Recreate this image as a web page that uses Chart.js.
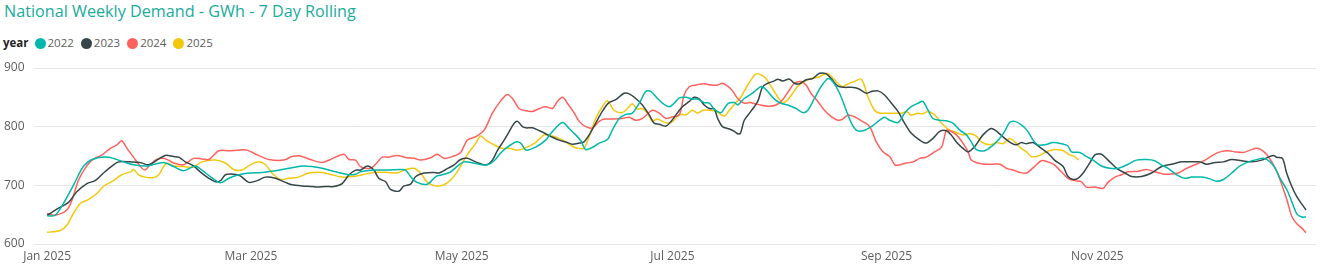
<!DOCTYPE html>
<html><head><meta charset="utf-8">
<script src="https://cdn.jsdelivr.net/npm/chart.js@4.4.1/dist/chart.umd.min.js"></script>
<style>
html,body{margin:0;padding:0;background:#fff;width:1328px;height:271px;overflow:hidden;font-family:"Open Sans",sans-serif;}
#title{position:absolute;left:4px;top:0px;font-size:16.2px;color:#1aab9b;white-space:nowrap;line-height:22px;}
#legend{position:absolute;left:3px;top:35px;font-size:11.5px;color:#605e5c;display:flex;align-items:center;line-height:16px;white-space:nowrap;}
#legend .lab{color:#252423;font-weight:700;margin-right:6px;}
#legend .item{display:flex;align-items:center;margin-right:7px;}
#legend .dot{width:11px;height:11px;border-radius:50%;margin-right:2px;}
#wrap{position:absolute;left:0;top:55px;width:1328px;height:216px;}
</style></head>
<body>
<div id="title">National Weekly Demand - GWh - 7 Day Rolling</div>
<div id="legend"><span class="lab">year</span></div>
<div id="wrap"><canvas id="c" width="1328" height="216" style="width:1328px;height:216px"></canvas></div>
<script>
// x positions are day of year (0 = 1 Jan)
const tickDays = [0, 59, 120, 181, 243, 304];
const tickLabels = ['Jan 2025', 'Mar 2025', 'May 2025', 'Jul 2025', 'Sep 2025', 'Nov 2025'];
const yTicks = [600, 700, 800, 900];
const years = ['2022', '2023', '2024', '2025'];

const days2022 = [0,2.3,4.7,7.6,10.5,13.4,17.8,22.1,25,28.9,33.7,36.6,39.5,42.9,44.8,47.2,49.7,50.6,52.6,55.5,58.4,62.2,66.1,70,73.8,76.7,79.6,83.5,87.4,89.3,90.7,94.6,98.5,102.3,103.8,105.2,107.1,110.1,112.5,114.4,116.8,119.2,120.7,122.6,125,127.5,129.4,131.3,133.2,135.7,137.1,138.6,141.4,144.3,146.3,149.2,151.1,153,154.5,155.9,157.9,159.8,162.2,163.6,165.6,167.5,169.4,171.4,173.3,174.7,176.7,178.1,180.1,181.5,183,184.9,186.8,188.3,190.2,191.7,193.1,195.1,197,199,199.9,201.8,204.2,206.2,207.1,208.6,210.5,212.4,214.4,216.8,218.7,220.2,222.1,224,226,227.4,229.4,231.3,232.8,234.2,236.2,238.6,241,242.4,243.9,246.3,248.2,250.1,252.1,253.5,255,256.4,258.4,260.3,262.2,264.2,266.1,267.5,269,271.4,273.3,275.3,277.2,278.6,280.1,282,283.9,285.4,286.8,288.8,291.2,293.6,295.5,296.5,298.9,300.9,302.8,305.2,307.6,310,312.9,315.3,318.2,320.6,322.5,324.5,327,329.4,331.3,334.2,336.6,338.5,340.5,342.9,345.3,347.7,350.2,352.1,354,355.5,356.9,358.9,360.3,361.8,363.2,364.4];
const demand2022 = [648,649,669,700,732,745,748,740,735,733,739,732,725,733,726,715,705,705,712,718,721,722,725,729,733,732,729,723,718,719,723,726,726,727,726,715,705,702,715,718,723,735,740,739,736,735,742,755,765,774,772,760,765,777,792,807,797,786,776,761,765,772,778,794,814,821,823,840,860,860,848,840,834,840,849,850,847,847,841,840,830,824,839,841,837,848,857,867,868,860,847,840,837,831,824,828,848,868,882,877,857,828,806,794,793,800,811,816,811,807,823,834,840,843,828,814,811,810,806,794,786,774,761,759,766,777,792,807,809,803,792,777,769,769,773,771,767,757,756,749,743,733,729,729,736,743,744,742,735,729,718,712,714,714,711,707,710,721,733,740,744,746,740,729,712,692,672,651,646,646];

const days2023 = [0,3.3,6.2,8.6,11.5,13.9,16.3,19.2,20.7,24.1,26.9,29.4,31.8,34.2,36.6,38.1,40,42.4,44.3,46.8,48.7,50.2,51.6,54,55.9,58.4,60.8,63.2,66.1,69,70.9,73.8,76.7,78.2,80.6,83,85.4,87.4,89.3,90.7,92.7,94.6,96,98,99.4,101.8,103.3,105.2,106.7,109.1,112,113.4,115.4,117.8,119.7,121.6,124.1,127,128.9,130.4,132.3,133.8,135.2,136.2,137.6,138.6,140.5,142.5,144.3,146.3,148.2,150.1,152.1,154,155.4,156.9,158.8,160.7,162.6,164.6,167,168.5,170.4,172.3,174.3,175.7,177.2,179.1,180.6,182.5,183.9,185.9,187.3,188.8,190.2,191.7,193.1,194.1,195.5,197.5,198.9,199.9,200.7,201.8,203.7,205.7,207.1,208.6,210.5,211.5,212.9,214.9,216.3,217.8,219.7,221.6,223.6,225.5,227,228.9,230.8,232.8,234.7,237.1,238.6,240.5,242.4,244.4,246.3,248.2,250.1,252.6,254.5,256.4,258.4,260.3,261.7,263.2,265.1,266.6,268.5,270.9,273.3,275.3,277.2,279.1,280.6,282,283.4,285.4,287.8,289.7,291.6,294.1,295.5,297,298.4,299.9,301.8,303.3,305.2,307.1,309.6,312,313.9,316.8,319.7,322.6,325.5,328.4,331.3,333.7,335.6,338.1,340.5,342.9,345.8,348.7,351.6,353.5,355,355.9,357.6,358.8,360.3,361.7,363.2,364.4];
const demand2023 = [649,661,671,689,703,708,721,735,740,740,739,735,743,751,749,748,740,733,723,712,706,708,718,719,716,705,708,714,712,705,701,699,698,697,698,698,703,718,726,726,733,726,712,706,693,690,699,702,715,721,722,721,727,735,744,746,740,735,743,760,777,792,806,809,800,798,798,793,788,782,777,774,770,772,774,786,806,826,841,846,857,856,848,837,820,806,804,801,809,824,834,843,850,847,837,831,830,814,800,796,792,788,789,811,826,843,868,874,878,881,878,881,874,873,880,882,891,890,882,869,867,867,865,857,860,861,854,840,826,806,789,777,772,780,792,793,786,774,763,757,766,786,797,790,780,772,769,773,771,773,763,755,743,732,715,710,712,721,738,752,753,743,729,721,715,715,721,732,736,740,740,740,736,739,740,744,742,740,743,748,751,748,746,721,698,681,668,658];

const days2024 = [0,2.3,5.7,7.2,9.1,11,13,15.9,18.3,20.2,21.6,23.1,25,26.9,28.3,29.8,31.7,33.7,35.1,36.6,39.5,42.4,44.8,46.8,49.7,52.6,55,57.9,60.8,64.2,68.5,70.9,73.3,76.2,79.6,82,85.9,87.4,89.3,90.7,93.6,95.1,97,98.9,101.3,104.2,106.2,108.1,111,112.9,114.9,117.3,119.7,121.6,124.1,126.5,128.9,131.3,133.2,134.7,136.6,138.6,140.5,142.5,144.3,146.3,147.7,149.2,150.6,152.6,154,155.9,157.9,159.8,161.3,163.6,166.5,168.5,170.4,172.3,175.2,177.2,179.1,181.1,183,184.4,185.9,187.8,190.2,192.2,194.1,195.5,197,198.4,199.9,201.8,203.3,205.7,208.6,211,212.9,214.9,216.3,218.2,219.7,221.1,223.1,225,227,228.9,230.3,231.8,233.7,235.7,238.1,240,242,243.9,245.4,246.8,248.7,250.7,252.6,254.5,256.9,258.9,260.3,261.3,263.2,265.1,266.6,267.5,269.5,271.4,273.8,275.8,277.7,279.6,281.6,283.5,285.8,287.8,289.7,291.6,293.6,295.5,297.4,299.4,300.8,303.3,305.7,307.1,309.1,311,312.9,315.8,318.2,320.6,323.5,325,327.4,329.8,332.3,335.2,337.6,339.5,341.9,343.9,346.3,348.2,350.2,351.6,353.1,354.5,356,357.4,358.9,360.3,361.8,363.2,364.4];
const demand2024 = [652,649,658,675,709,729,743,752,763,769,776,763,748,733,726,735,744,746,743,738,735,746,745,744,759,759,760,760,752,744,743,749,750,744,739,744,753,744,743,732,729,736,748,748,751,747,746,743,747,753,746,749,756,777,783,794,823,844,855,848,831,827,826,831,834,831,843,850,840,823,809,800,798,809,813,813,814,816,811,814,828,823,814,817,820,854,868,871,873,871,871,874,869,861,848,840,841,838,835,837,846,863,874,877,871,857,843,828,817,811,813,820,817,810,800,774,757,749,735,735,738,740,746,748,757,765,794,793,786,772,757,743,738,736,736,736,729,726,722,721,732,742,740,735,723,712,708,706,697,697,695,705,714,718,723,724,727,723,719,719,721,729,735,743,752,757,759,757,756,760,763,760,752,740,723,701,675,647,634,627,619];

const days2025 = [0,3.8,5.7,7.6,9.6,12,14.4,16.3,19.2,21.6,24.1,25,26.5,28.4,30.8,32.3,33.7,34.7,36.6,39.5,42.4,44.8,48.7,51.6,54,56.4,58.8,61.3,63.2,65.1,67.5,70,72.8,75.7,79.6,82.5,85.4,88.3,91.2,94.6,98.5,101.3,103.8,106.2,108.1,110.1,112.5,114.9,116.8,118.7,120.2,121.6,124.1,125.5,127,129.4,131.8,133.8,136.2,138.1,141.4,143.9,146.3,148.2,150.1,152.6,154,155.4,156.9,158.8,160.7,162.2,164.1,166.5,168,169.4,170.9,172.3,173.8,175.2,176.7,178.1,179.6,181.1,183,184.9,186.8,188.3,189.8,191.7,193.6,196,197.5,199.4,200.9,202.8,205.2,206.7,208.1,209.6,211.5,212.9,214.4,215.8,217.3,219.2,221.1,223.6,225.5,227,228.9,230.3,231.8,233.7,235.7,237.6,239.5,241,242.9,245.4,247.3,248.7,250.1,252.1,253.5,255,256.9,258.9,260.8,263.2,265.1,267.1,269,270.4,272.9,274.8,276.7,278.6,280.1,282,283.5,284.9,286.8,289.2,291.6,294.1,296,297.4,298.6];
const demand2025 = [620,623,632,652,669,676,686,698,708,718,723,727,718,714,713,718,732,738,733,732,731,740,743,738,727,726,735,740,735,721,710,712,714,721,722,718,714,715,718,722,722,721,727,729,721,705,699,701,709,723,738,752,772,784,777,769,763,763,760,763,773,786,784,780,774,765,763,763,783,814,834,844,828,824,831,839,830,831,823,810,813,809,806,809,821,820,828,823,828,828,826,818,828,841,851,871,890,888,882,868,851,841,846,857,869,877,882,885,891,886,874,868,873,877,881,851,828,823,823,823,823,826,820,823,822,826,820,806,796,790,786,788,784,774,769,773,771,780,774,763,757,749,750,757,761,759,752,749,743];

const seriesDays = [days2022, days2023, days2024, days2025];
const seriesValues = [demand2022, demand2023, demand2024, demand2025];
const palette = ['#01B8AA', '#374649', '#FD625E', '#F2C80F'];

// legend
const leg = document.getElementById('legend');
years.forEach((y, i) => {
  const it = document.createElement('span'); it.className = 'item';
  const d = document.createElement('span'); d.className = 'dot'; d.style.background = palette[i];
  const t = document.createElement('span'); t.textContent = y;
  it.appendChild(d); it.appendChild(t); leg.appendChild(it);
});

const tickFont = { family: 'Open Sans', size: 12 };
new Chart(document.getElementById('c'), {
  type: 'line',
  data: {
    datasets: years.map((y, i) => ({
      label: y,
      data: seriesDays[i].map((d, j) => ({ x: d, y: seriesValues[i][j] })),
      borderColor: palette[i],
      backgroundColor: palette[i],
      borderWidth: 1.5,
      pointRadius: 0,
      pointHoverRadius: 0,
      tension: 0.3,
      fill: false
    }))
  },
  options: {
    responsive: false,
    animation: false,
    devicePixelRatio: 1,
    layout: { padding: { top: 13, right: 12, left: 4, bottom: 0 } },
    plugins: { legend: { display: false }, tooltip: { enabled: false }, title: { display: false } },
    scales: {
      x: {
        type: 'linear', min: -3.8, max: 367.3,
        grid: { display: false, drawTicks: false }, border: { display: false },
        afterBuildTicks: (s) => { s.ticks = tickDays.map(v => ({ value: v })); },
        afterFit: (s) => { s.height = 27; },
        ticks: {
          autoSkip: false, maxRotation: 0, padding: 5, color: '#605E5C', font: tickFont,
          callback: (v) => { const k = tickDays.indexOf(v); return k >= 0 ? tickLabels[k] : ''; }
        }
      },
      y: {
        min: 600, max: 900,
        afterBuildTicks: (s) => { s.ticks = yTicks.map(v => ({ value: v })); },
        afterFit: (s) => { s.width = 30; },
        grid: { color: '#e6e6e6', drawTicks: false, lineWidth: 1 },
        border: { display: false },
        ticks: { padding: 0, crossAlign: 'far', color: '#605E5C', font: tickFont }
      }
    }
  }
});
</script>
</body></html>
